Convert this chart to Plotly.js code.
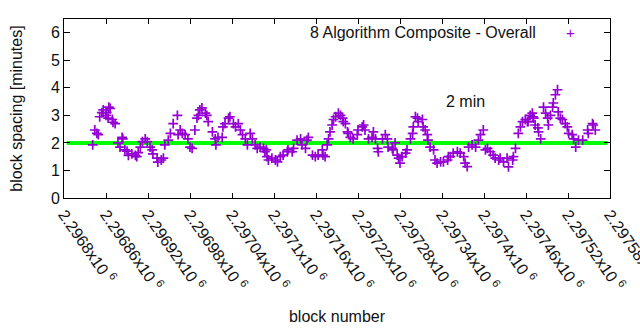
<!DOCTYPE html>
<html>
<head>
<meta charset="utf-8">
<script src="https://cdn.plot.ly/plotly-3.0.1.min.js"></script>
<style>html,body{margin:0;padding:0;background:#fff}#chart{width:640px;height:330px}</style>
</head>
<body>
<div id="chart"></div>
<script>
// Block numbers (offset from 2296800) and block spacing in minutes
const baseBlock = 2296800;
const blockOffsets = [
 41,44,47,49,51,54,56,60,61,63,64,66,69,70,73,77,80,83,84,87,90,92,97,102,104,106,109,112,116,119,
 123,126,127,133,134,139,142,144,149,152,156,162,163,166,169,173,177,180,183,187,190,192,194,197,202,204,206,212,216,217,
 220,226,227,230,235,237,242,245,249,252,255,259,262,266,269,273,276,280,285,287,289,290,292,297,302,305,309,313,319,320,
 326,328,333,338,340,345,347,349,355,359,363,369,370,373,376,378,380,383,385,388,392,395,398,399,402,405,406,409,413,419,
 420,426,428,430,435,440,442,445,448,449,455,459,462,463,469,470,473,476,478,480,483,488,490,495,498,499,502,505,506,512,
 513,516,519,520,523,528,530,533,538,542,548,549,552,556,562,566,571,573,576,578,583,588,592,595,599,602,605,609,613,616,
 621,623,628,633,635,641,642,645,649,652,655,659,662,663,666,669,670,671,673,677,678,681,685,688,691,692,695,698,699,702,
 705,706,709,712,716,719,721,726,728,731,735,741,748,749,755,756,759
];
const spacingMinutes = [
 1.93,2.47,2.35,2.30,2.95,3.10,3.20,3.00,3.10,2.90,3.30,3.25,2.85,2.75,2.70,2.00,1.85,2.20,2.15,1.75,1.70,1.55,1.60,1.55,1.50,1.65,1.85,2.05,2.15,2.05,
 1.85,1.75,1.60,1.45,1.30,1.38,1.45,1.93,2.10,2.35,2.70,3.00,2.30,2.47,2.35,2.30,2.15,1.85,1.80,2.47,2.90,3.00,3.20,3.27,3.08,3.00,2.77,2.40,2.15,1.93,
 2.20,2.20,2.58,2.70,2.90,2.95,2.70,2.58,2.70,2.47,2.30,2.15,1.93,2.35,2.15,1.93,1.80,1.85,1.80,1.68,1.75,1.50,1.38,1.45,1.38,1.31,1.50,1.56,1.68,1.75,
 1.68,1.80,2.10,2.15,1.93,1.80,2.10,2.20,1.56,1.50,1.56,1.75,1.56,1.50,1.93,2.15,2.40,2.65,2.85,2.95,3.08,3.00,2.90,2.77,2.70,2.40,2.35,2.20,2.15,2.30,
 2.47,2.58,2.65,2.47,2.15,2.20,2.40,2.15,1.80,1.68,2.15,2.30,2.15,1.85,1.80,1.75,2.00,1.56,1.45,1.27,1.50,1.63,1.75,2.15,2.35,2.58,2.95,2.90,2.77,2.85,
 2.58,2.47,2.30,2.10,1.85,1.75,1.38,1.27,1.31,1.31,1.38,1.50,1.50,1.63,1.68,1.63,1.50,1.27,1.14,1.85,1.93,1.85,2.10,2.30,2.47,1.75,1.80,1.68,1.56,1.45,
 1.38,1.45,1.31,1.45,1.13,1.38,1.50,1.80,2.35,2.58,2.77,2.85,2.77,2.77,3.00,3.08,2.95,2.90,2.65,2.55,2.40,2.15,3.30,3.08,2.90,2.65,3.00,3.30,3.45,3.75,
 3.93,3.13,2.90,2.85,2.70,2.58,2.35,2.30,2.15,1.85,2.10,2.10,2.47,2.35,2.70,2.65,2.47
];
const targetMinutes = 2;
const xRange = [2296800, 2297580];
const yRange = [0, 6.5];
const yTicks = [0, 1, 2, 3, 4, 5, 6];
const xTickVals = [2296800,2296860,2296920,2296980,2297040,2297100,2297160,2297220,2297280,2297340,2297400,2297460,2297520,2297580];
const xTickMantissa = ["2.2968","2.29686","2.29692","2.29698","2.29704","2.2971","2.29716","2.29722","2.29728","2.29734","2.2974","2.29746","2.29752","2.29758"];
const seriesName = "8 Algorithm Composite - Overall";
const targetLabel = "2 min";
const targetLabelPos = {x: 2297373, y: 3.49};

const blocks = blockOffsets.map(o => baseBlock + o);
const purple = "#9400D3";
const font = {family: "Liberation Sans, Arial, sans-serif", size: 16, color: "#111"};

const trace = {
  x: blocks, y: spacingMinutes, type: "scatter", mode: "markers", name: seriesName,
  marker: {symbol: "cross-thin", size: 7, color: purple, line: {color: purple, width: 1.7}},
  showlegend: false, hoverinfo: "skip", cliponaxis: true
};

const layout = {
  width: 640, height: 330,
  margin: {l: 64, r: 30, t: 19, b: 132, pad: 0},
  paper_bgcolor: "#fff", plot_bgcolor: "#fff",
  font: font,
  showlegend: false,
  xaxis: {
    range: xRange, tickmode: "array", tickvals: xTickVals,
    ticktext: xTickMantissa.map(m => m + "x10 <sup>6</sup>"),
    tickangle: 55, ticks: "inside", ticklen: 5, tickwidth: 1, tickcolor: "#000",
    showline: true, linecolor: "#000", linewidth: 1, mirror: "ticks",
    showgrid: false, zeroline: false, tickfont: font, ticklabeloverflow: "allow",
    title: {text: "block number", font: font, standoff: 18}, automargin: false
  },
  yaxis: {
    range: yRange, tickmode: "array", tickvals: yTicks, ticktext: yTicks.map(String),
    ticks: "inside", ticklen: 6, tickwidth: 1, tickcolor: "#000",
    showline: true, linecolor: "#000", linewidth: 1, mirror: "ticks",
    showgrid: false, zeroline: false, tickfont: font,
    title: {text: "block spacing [minutes]", font: font, standoff: 24}, automargin: false
  },
  shapes: [{
    type: "line", xref: "paper", yref: "y", x0: 0.005, x1: 0.995, y0: targetMinutes, y1: targetMinutes,
    line: {color: "#00ff00", width: 4}, layer: "below"
  }],
  annotations: [
    {xref: "x", yref: "y", x: targetLabelPos.x, y: targetLabelPos.y, text: targetLabel, showarrow: false, font: font, xanchor: "center", yanchor: "middle"},
    {xref: "paper", yref: "paper", x: 0.8675, y: 0.922, text: seriesName, showarrow: false, font: font, xanchor: "right", yanchor: "middle"},
    {xref: "paper", yref: "paper", x: 0.9285, y: 0.922, text: "+", showarrow: false, font: {family: font.family, size: 15, color: purple}, xanchor: "center", yanchor: "middle"}
  ]
};

Plotly.newPlot("chart", [trace], layout, {displayModeBar: false, staticPlot: true});
</script>
</body>
</html>
